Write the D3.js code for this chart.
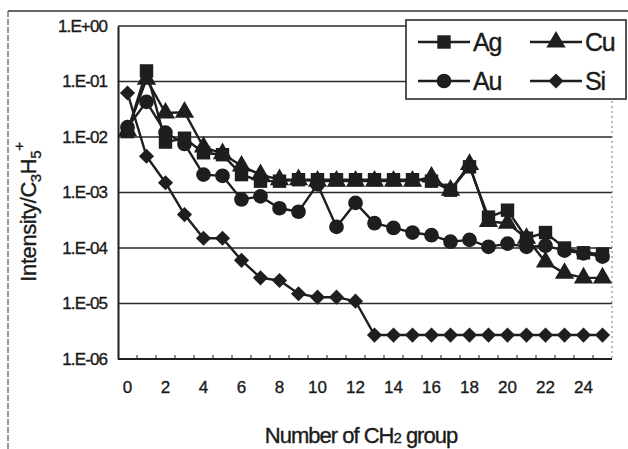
<!DOCTYPE html>
<html>
<head>
<meta charset="utf-8">
<script src="https://cdn.jsdelivr.net/npm/d3@7"></script>
<style>
  body { margin: 0; background: #fff; }
  text { font-family: "Liberation Sans", Arial, sans-serif; fill: #1a1a1a; stroke: #1a1a1a; stroke-width: 0.35px; }
</style>
</head>
<body>
<svg id="chart" width="628" height="449"></svg>
<script>
const groups = d3.range(0, 26);
const xTickLabels = [0, 2, 4, 6, 8, 10, 12, 14, 16, 18, 20, 22, 24];
const yTickValues = [1, 1e-1, 1e-2, 1e-3, 1e-4, 1e-5, 1e-6];
const yTickLabels = ["1.E+00", "1.E-01", "1.E-02", "1.E-03", "1.E-04", "1.E-05", "1.E-06"];

const ag = [0.0125, 0.155, 0.0081, 0.0095, 0.0052, 0.0048, 0.0021, 0.0016, 0.0016, 0.0017,
            0.0017, 0.0017, 0.0017, 0.0017, 0.0017, 0.0017, 0.0016, 0.0011, 0.0029, 0.00036,
            0.00048, 0.00015, 0.00019, 0.0001, 0.000082, 0.000078];
const cu = [0.013, 0.11, 0.027, 0.028, 0.0066, 0.005, 0.003, 0.0021, 0.0017, 0.0017,
            0.0016, 0.0016, 0.0016, 0.0016, 0.0016, 0.0016, 0.0019, 0.0011, 0.0032, 0.0003,
            0.00028, 0.00015, 0.000056, 0.000035, 0.000029, 0.000029];
const au = [0.015, 0.043, 0.012, 0.0075, 0.0021, 0.002, 0.00075, 0.00085, 0.00052, 0.00045,
            0.0014, 0.00024, 0.00065, 0.00028, 0.00023, 0.00019, 0.00017, 0.00013, 0.00014, 0.000105,
            0.00012, 0.000105, 0.00011, 0.00009, 0.00008, 0.00007];
const si = [0.062, 0.0045, 0.0015, 0.0004, 0.00015, 0.00015, 0.00006, 0.000029, 0.000026, 0.000015,
            0.000013, 0.000013, 0.000011, 0.0000027, 0.0000027, 0.0000027, 0.0000027, 0.0000027, 0.0000027, 0.0000027,
            0.0000027, 0.0000027, 0.0000027, 0.0000027, 0.0000027, 0.0000027];

const series = [
  { name: "Si", values: si, symbol: "diamond" },
  { name: "Au", values: au, symbol: "circle" },
  { name: "Cu", values: cu, symbol: "triangle" },
  { name: "Ag", values: ag, symbol: "square" }
];

const svg = d3.select("#chart");
const ink = "#1e1e1e";
const plot = { left: 118, right: 612, top: 26, bottom: 359 };

const x = d3.scaleBand().domain(groups).range([plot.left, plot.right]);
const y = d3.scaleLog().domain([1e-6, 1]).range([plot.bottom, plot.top]);
const cx = d => x(d) + x.bandwidth() / 2;

// outer frame
svg.append("line").attr("x1", 8).attr("x2", 628).attr("y1", 11).attr("y2", 11)
    .attr("stroke", "#333").attr("stroke-width", 1.5);
svg.append("line").attr("x1", 8).attr("x2", 8).attr("y1", 11).attr("y2", 449)
    .attr("stroke", "#555").attr("stroke-width", 1.2).attr("stroke-dasharray", "6,2");

// gridlines
svg.append("g")
  .selectAll("line")
  .data(yTickValues)
  .join("line")
    .attr("x1", plot.left).attr("x2", plot.right)
    .attr("y1", d => y(d)).attr("y2", d => y(d))
    .attr("stroke", "#2a2a2a").attr("stroke-width", 1.5);

// right border (dotted)
svg.append("line").attr("x1", plot.right).attr("x2", plot.right)
    .attr("y1", plot.top).attr("y2", plot.bottom)
    .attr("stroke", "#777").attr("stroke-width", 1).attr("stroke-dasharray", "2,3");

// y axis
const yAxis = d3.axisLeft(y).tickValues(yTickValues)
    .tickFormat((d, i) => yTickLabels[i]).tickSize(0).tickPadding(11);
svg.append("g").attr("transform", `translate(${plot.left},0)`).call(yAxis)
  .call(g => g.select(".domain").attr("stroke", ink).attr("stroke-width", 2))
  .call(g => g.selectAll("text").attr("font-size", 17).attr("letter-spacing", "-0.9px")
      .attr("font-family", "'Liberation Sans', Arial, sans-serif").attr("fill", ink));

// x axis: ticks at band boundaries, labels every second group
const xAxis = svg.append("g").attr("transform", `translate(0,${plot.bottom})`);
xAxis.append("line").attr("x1", plot.left).attr("x2", plot.right)
    .attr("stroke", ink).attr("stroke-width", 2);
xAxis.selectAll(".tk")
  .data(groups.slice(1))
  .join("line")
    .attr("class", "tk")
    .attr("x1", d => x(d)).attr("x2", d => x(d))
    .attr("y1", 0).attr("y2", -4)
    .attr("stroke", ink).attr("stroke-width", 1);
xAxis.selectAll("text")
  .data(xTickLabels)
  .join("text")
    .attr("x", d => cx(d))
    .attr("y", 34)
    .attr("text-anchor", "middle")
    .attr("font-size", 17)
    .text(d => d);

// series
const markerPath = {
  square: d3.symbol(d3.symbolSquare, 180)(),
  circle: d3.symbol(d3.symbolCircle, 170)(),
  triangle: d3.symbol(d3.symbolTriangle, 160)(),
  diamond: d3.symbol(d3.symbolSquare, 115)()
};
const markerRot = s => s === "diamond" ? " rotate(45)" : "";

const line = d3.line().x((d, i) => cx(i)).y(d => y(d));

series.forEach(s => {
  const g = svg.append("g");
  g.append("path")
    .attr("d", line(s.values))
    .attr("fill", "none").attr("stroke", ink).attr("stroke-width", 2.4);
  g.selectAll("path.m")
    .data(s.values)
    .join("path")
      .attr("class", "m")
      .attr("d", markerPath[s.symbol])
      .attr("transform", (d, i) => `translate(${cx(i)},${y(d)})${markerRot(s.symbol)}`)
      .attr("fill", ink);
});

// legend
const legend = svg.append("g");
legend.append("rect").attr("x", 406).attr("y", 20).attr("width", 220).attr("height", 79)
    .attr("fill", "#fff").attr("stroke", "#2a2a2a").attr("stroke-width", 1.6);
const legendItems = [
  { s: series[3], x: 418, y: 42 },
  { s: series[2], x: 530, y: 42 },
  { s: series[1], x: 418, y: 81 },
  { s: series[0], x: 530, y: 81 }
];
legendItems.forEach(it => {
  legend.append("line").attr("x1", it.x).attr("x2", it.x + 52)
      .attr("y1", it.y).attr("y2", it.y).attr("stroke", ink).attr("stroke-width", 2.4);
  legend.append("path").attr("d", markerPath[it.s.symbol])
      .attr("transform", `translate(${it.x + 26},${it.y})${markerRot(it.s.symbol)}`)
      .attr("fill", ink);
  legend.append("text").attr("x", it.x + 55).attr("y", it.y + 9)
      .attr("font-size", 25).attr("letter-spacing", "-1.2px").text(it.s.name);
});

// axis titles
const xt = svg.append("text").attr("x", 361).attr("y", 443).attr("text-anchor", "middle")
    .attr("font-size", 22).attr("letter-spacing", "-1px");
xt.append("tspan").text("Number of CH");
xt.append("tspan").attr("font-size", 15).text("2");
xt.append("tspan").text(" group");

const yt = svg.append("text").attr("transform", "translate(36,212) rotate(-90)")
    .attr("text-anchor", "middle").attr("font-size", 22).attr("letter-spacing", "-0.4px");
yt.append("tspan").text("Intensity/C");
yt.append("tspan").attr("font-size", 15).attr("dy", 5).text("3");
yt.append("tspan").attr("dy", -5).text("H");
yt.append("tspan").attr("font-size", 15).attr("dy", 5).text("5");
yt.append("tspan").attr("font-size", 15).attr("dy", -17).text("+");
</script>
</body>
</html>
